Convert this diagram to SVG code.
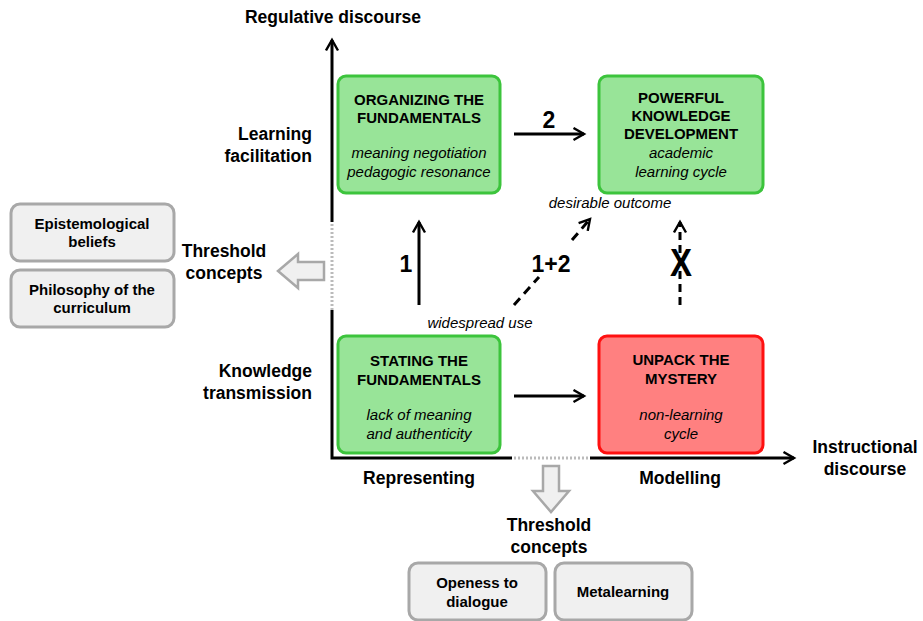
<svg xmlns="http://www.w3.org/2000/svg" width="923" height="621" viewBox="0 0 923 621">
<style>
text{font-family:"Liberation Sans",Arial,sans-serif;fill:#000}
.ax{font-size:17.5px;font-weight:bold}
.tt{font-size:15px;font-weight:bold;text-anchor:middle}
.it{font-size:15px;font-style:italic;text-anchor:middle}
.gb{font-size:15px;font-weight:bold;text-anchor:middle}
.num{font-size:23px;font-weight:bold;text-anchor:middle}
.g{fill:#98E498;stroke:#3CC43C;stroke-width:3}
.r{fill:#FF8080;stroke:#FF1010;stroke-width:3}
.gr{fill:#F0F0F0;stroke:#A8A8A8;stroke-width:3}
.ln{stroke:#000;stroke-width:3;fill:none}
.dot{stroke:#BBB;stroke-width:3;stroke-dasharray:2 2;fill:none}
.hol{fill:#F0F0F0;stroke:#A8A8A8;stroke-width:2.5}
</style>
<defs>
<marker id="ah" viewBox="0 0 10 10" refX="8" refY="5" markerWidth="5" markerHeight="5" orient="auto" markerUnits="strokeWidth">
<path d="M1,1 L8,5 L1,9" fill="none" stroke="#000" stroke-width="1.6"/>
</marker>
</defs>
<g id="axes">
<path class="ln" d="M332,222 V40" marker-end="url(#ah)"/>
<path class="dot" d="M332,224 V310"/>
<path class="ln" d="M332,310 V458 H512"/>
<path class="dot" d="M514,458 H590"/>
<path class="ln" d="M590,458 H794" marker-end="url(#ah)"/>
</g>
<g id="axis-labels">
<text class="ax" x="333" y="23" text-anchor="middle">Regulative discourse</text>
<text class="ax" x="312" y="140" text-anchor="end">Learning</text>
<text class="ax" x="312" y="162" text-anchor="end">facilitation</text>
<text class="ax" x="312" y="377" text-anchor="end">Knowledge</text>
<text class="ax" x="312" y="399" text-anchor="end">transmission</text>
<text class="ax" x="419" y="484" text-anchor="middle">Representing</text>
<text class="ax" x="680" y="484" text-anchor="middle">Modelling</text>
<text class="ax" x="865" y="453" text-anchor="middle">Instructional</text>
<text class="ax" x="865" y="475" text-anchor="middle">discourse</text>
</g>
<g id="organizing">
<rect class="g" x="338" y="76" width="162" height="117" rx="8"/>
<text class="tt" x="419" y="105">ORGANIZING THE</text>
<text class="tt" x="419" y="123">FUNDAMENTALS</text>
<text class="it" x="419" y="158">meaning negotiation</text>
<text class="it" x="419" y="177">pedagogic resonance</text>
</g>
<g id="powerful">
<rect class="g" x="599" y="76" width="164" height="117" rx="8"/>
<text class="tt" x="681" y="103">POWERFUL</text>
<text class="tt" x="681" y="121">KNOWLEDGE</text>
<text class="tt" x="681" y="139">DEVELOPMENT</text>
<text class="it" x="681" y="158">academic</text>
<text class="it" x="681" y="177">learning cycle</text>
</g>
<g id="stating">
<rect class="g" x="338" y="336" width="162" height="117" rx="8"/>
<text class="tt" x="419" y="366">STATING THE</text>
<text class="tt" x="419" y="385">FUNDAMENTALS</text>
<text class="it" x="419" y="420">lack of meaning</text>
<text class="it" x="419" y="439">and authenticity</text>
</g>
<g id="unpack">
<rect class="r" x="599" y="336" width="164" height="117" rx="8"/>
<text class="tt" x="681" y="365">UNPACK THE</text>
<text class="tt" x="681" y="384">MYSTERY</text>
<text class="it" x="681" y="420">non-learning</text>
<text class="it" x="681" y="439">cycle</text>
</g>
<g id="connectors">
<path class="ln" d="M514,134 H584" marker-end="url(#ah)"/>
<path class="ln" d="M419,305 V222" marker-end="url(#ah)"/>
<path class="ln" d="M514,396 H584" marker-end="url(#ah)"/>
<path class="ln" d="M514,305 L539,277" stroke-dasharray="9 6"/>
<path class="ln" d="M572,240 L590,219" stroke-dasharray="9 6" marker-end="url(#ah)"/>
<path class="ln" d="M680,305 V222" stroke-dasharray="8 5" marker-end="url(#ah)"/>
<text class="num" x="549" y="128">2</text>
<text class="num" x="406" y="272">1</text>
<text class="num" x="551" y="272">1+2</text>
<text font-size="33" font-weight="bold" text-anchor="middle" transform="translate(681,276) scale(1,1.18)">X</text>
<text class="it" x="610" y="208">desirable outcome</text>
<text class="it" x="480" y="328">widespread use</text>
</g>
<g id="threshold-left">
<path class="hol" d="M324,262 H298 V254 L278,271 L298,288 V280 H324 Z"/>
<text class="ax" x="224" y="257" text-anchor="middle">Threshold</text>
<text class="ax" x="224" y="279" text-anchor="middle">concepts</text>
</g>
<g id="epistemological">
<rect class="gr" x="11" y="204" width="163" height="57" rx="9"/>
<text class="gb" x="92" y="229">Epistemological</text>
<text class="gb" x="92" y="247">beliefs</text>
</g>
<g id="philosophy">
<rect class="gr" x="11" y="270" width="163" height="57" rx="9"/>
<text class="gb" x="92" y="295">Philosophy of the</text>
<text class="gb" x="92" y="313">curriculum</text>
</g>
<g id="threshold-bottom">
<path class="hol" d="M543,466 V491 H533 L551,512 L569,491 H559 V466 Z"/>
<text class="ax" x="549" y="531" text-anchor="middle">Threshold</text>
<text class="ax" x="549" y="553" text-anchor="middle">concepts</text>
</g>
<g id="openess">
<rect class="gr" x="409" y="563" width="137" height="57" rx="9"/>
<text class="gb" x="477" y="588">Openess to</text>
<text class="gb" x="477" y="607">dialogue</text>
</g>
<g id="metalearning">
<rect class="gr" x="555" y="563" width="137" height="57" rx="9"/>
<text class="gb" x="623" y="597">Metalearning</text>
</g>
</svg>
